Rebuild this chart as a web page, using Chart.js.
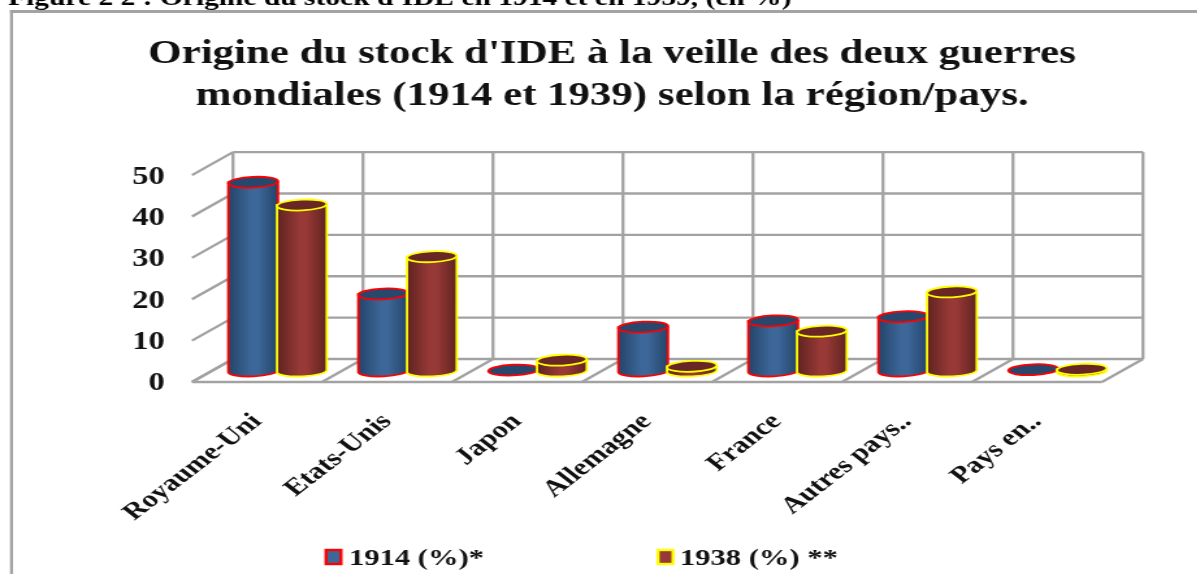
<!DOCTYPE html>
<html><head><meta charset="utf-8">
<style>html,body{margin:0;padding:0;background:#fff;overflow:hidden;width:1197px;height:574px}canvas{display:block;transform-origin:0 0;transform:scaleX(1.3);filter:blur(0.5px)}</style>
<script src="https://cdn.jsdelivr.net/npm/chart.js@4"></script></head>
<body><canvas id="c" width="921" height="574"></canvas>
<script>
const categories = ["Royaume-Uni","Etats-Unis","Japon","Allemagne","France","Autres pays..","Pays en.."];
const values1914 = [45.5,18.5,0.1,10.5,12,13,0.2];
const values1938 = [40,27.5,2.5,1,9.5,19,0.3];
const seriesNames = ["1914 (%)*","1938 (%) **"];
const yTicks = [0,10,20,30,40,50];
const chartTitle = ["Origine du stock d'IDE à la veille des deux guerres","mondiales (1914 et 1939) selon la région/pays."];
const caption = "Figure 2 2 : Origine du stock d'IDE en 1914 et en 1939, (en %)";

const SERIF = '"Liberation Serif","Times New Roman",serif';
const K = 1.3;
const DEPTH_X = 41/K, DEPTH_Y = -23;
const styles = [
  {edge:'#244469',mid:'#3c6798',top:'#27476d',line:'#ff0000'},
  {edge:'#5e2321',mid:'#973936',top:'#682725',line:'#ffff00'}
];

function cylinder(ctx, el, st){
  const x = el.x + DEPTH_X/2, yTop = el.y + DEPTH_Y/2, yBase = el.base + DEPTH_Y/2 + 0.5;
  const r = el.width/2 + 0.4, ry = 5.4, tilt = -0.06;
  const h = yBase - yTop;
  ctx.save();
  if (h > 1.5){
    const g = ctx.createLinearGradient(x-r,0,x+r,0);
    g.addColorStop(0,st.edge); g.addColorStop(0.45,st.mid); g.addColorStop(0.6,st.mid); g.addColorStop(1,st.edge);
    ctx.beginPath();
    ctx.moveTo(x-r,yTop);
    ctx.lineTo(x-r,yBase);
    ctx.ellipse(x,yBase,r,ry,tilt,Math.PI,0,true);
    ctx.lineTo(x+r,yTop);
    ctx.closePath();
    ctx.fillStyle = g; ctx.fill();
    ctx.strokeStyle = st.line; ctx.lineWidth = 1.8; ctx.stroke();
  }
  ctx.beginPath();
  ctx.ellipse(x,yTop,r,ry,tilt,0,Math.PI*2);
  ctx.fillStyle = st.top; ctx.fill();
  ctx.strokeStyle = st.line; ctx.lineWidth = 1.8; ctx.stroke();
  ctx.restore();
}

const scene = {
  id:'scene',
  beforeDraw(chart){
    const c = chart.ctx;
    const ys = chart.scales.y;
    if(!ys._shifted){
      const orig = ys.drawLabels.bind(ys);
      ys.drawLabels = function(a){ c.save(); c.translate(0,2); orig(a); c.restore(); };
      ys._shifted = true;
    }
    c.save();
    c.fillStyle='#fff'; c.fillRect(0,0,chart.width,chart.height);
    c.fillStyle='#000'; c.font='bold 22.7px '+SERIF; c.textAlign='left'; c.textBaseline='alphabetic';
    c.fillText(caption,8/K,5);
    c.fillStyle='#a3a3a3'; c.fillRect(10/K,10,chart.width-10/K,3); c.fillRect(10/K,10,3/K,chart.height-10);
    c.restore();
  },
  beforeDatasetsDraw(chart){
    const c = chart.ctx, y = chart.scales.y;
    const L = chart.chartArea.left, R = chart.chartArea.right, B = chart.chartArea.bottom, T = chart.chartArea.top;
    c.save();
    c.strokeStyle='#a2a2a2'; c.lineWidth=2.3;
    const seg=(a,b,d,e)=>{c.beginPath();c.moveTo(a,b);c.lineTo(d,e);c.stroke();};
    y.ticks.forEach(t=>{
      const p=y.getPixelForValue(t.value);
      seg(L,p,L+DEPTH_X,p+DEPTH_Y);
      seg(L+DEPTH_X,p+DEPTH_Y,R+DEPTH_X,p+DEPTH_Y);
    });
    const step = (R-L)/categories.length;
    for(let i=0;i<=categories.length;i++){
      const px = L+step*i;
      seg(px+DEPTH_X,T+DEPTH_Y,px+DEPTH_X,B+DEPTH_Y);
      seg(px,B,px+DEPTH_X,B+DEPTH_Y);
    }
    seg(L,B,R,B);
    c.restore();
  },
  beforeDatasetDraw(){ return false; },
  afterDatasetsDraw(chart){
    const c = chart.ctx;
    const m0 = chart.getDatasetMeta(0).data, m1 = chart.getDatasetMeta(1).data;
    categories.forEach((_,i)=>{ cylinder(c,m0[i],styles[0]); cylinder(c,m1[i],styles[1]); });
  },
  afterDraw(chart){
    const c = chart.ctx;
    const items=[{bx:326,tx:349},{bx:658,tx:680}];
    c.save();
    items.forEach((it,i)=>{
      c.fillStyle=styles[i].mid; c.strokeStyle=styles[i].line; c.lineWidth=2.4;
      c.fillRect(it.bx/K,550,15/K,14); c.strokeRect(it.bx/K,550,15/K,14);
      c.fillStyle='#111'; c.font='bold 23.5px '+SERIF; c.textAlign='left'; c.textBaseline='alphabetic';
      c.fillText(seriesNames[i],it.tx/K,565);
    });
    c.restore();
  }
};

new Chart(document.getElementById('c'),{
  type:'bar',
  data:{labels:categories,datasets:[
    {label:seriesNames[0],data:values1914,backgroundColor:'#3c6798',borderColor:'#ff0000'},
    {label:seriesNames[1],data:values1938,backgroundColor:'#973936',borderColor:'#ffff00'}
  ]},
  plugins:[scene],
  options:{
    responsive:false,animation:false,
    layout:{padding:{left:94,right:73.3,top:0,bottom:0}},
    datasets:{bar:{barPercentage:1,categoryPercentage:0.75}},
    plugins:{
      legend:{display:false},tooltip:{enabled:false},
      title:{display:true,text:chartTitle,color:'#111',font:{family:SERIF,weight:'bold',size:33,lineHeight:1.29},padding:{top:33,bottom:57},align:'center'}
    },
    scales:{
      x:{grid:{display:false},border:{display:false},
        afterFit(s){s.height=192;},
        ticks:{maxRotation:45,minRotation:45,autoSkip:false,padding:18,color:'#111',font:{family:SERIF,weight:'bold',size:23.5}}},
      y:{min:0,max:50,grid:{display:false},border:{display:false},
        afterFit(s){s.width=53.7;},
        afterBuildTicks(s){s.ticks=yTicks.map(v=>({value:v}));},
        ticks:{padding:13,color:'#111',font:{family:SERIF,weight:'bold',size:25}}}
    }
  }
});
</script></body></html>
